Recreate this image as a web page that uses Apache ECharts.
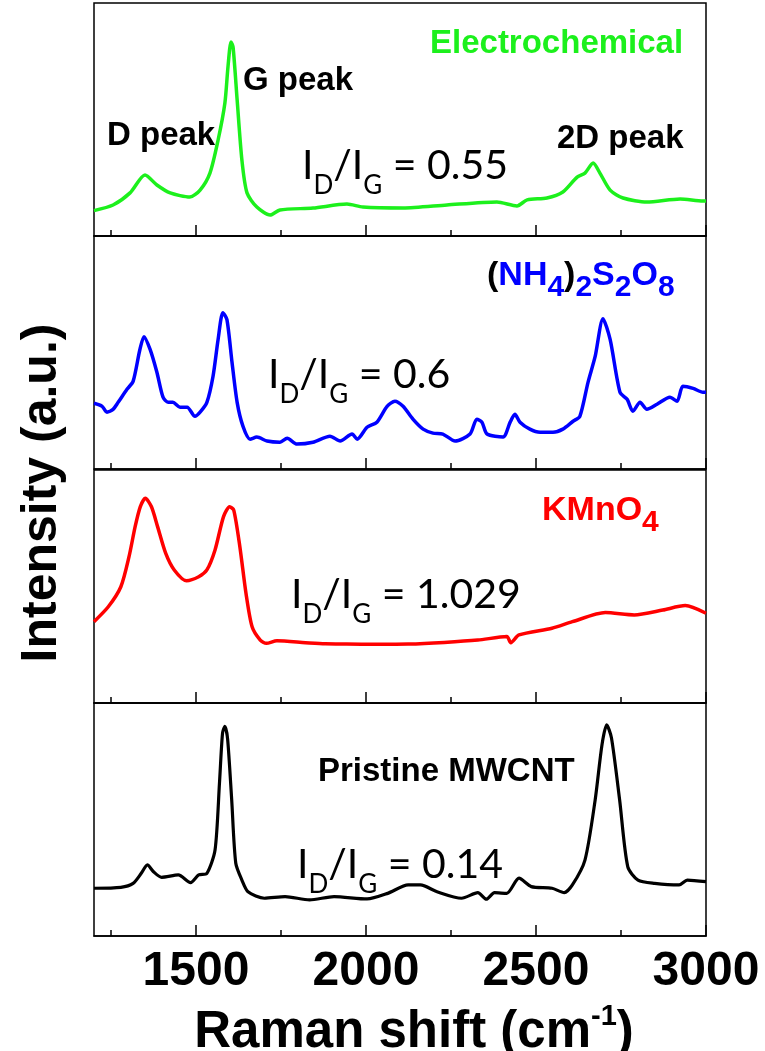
<!DOCTYPE html>
<html>
<head>
<meta charset="utf-8">
<script src="https://cdn.jsdelivr.net/npm/echarts@6/dist/echarts.min.js"></script>
<style>
  html, body { margin: 0; background: #fff; }
  #chart { width: 765px; height: 1051px; }
</style>
</head>
<body>
<div id="chart"></div>
<script>
// Raman shift range and tick marks (cm-1)
const xMin = 1200
const xMax = 3000
const majorTicks = [1500, 2000, 2500, 3000]
const minorTicks = [1250, 1750, 2250, 2750]

// spectra, [raman shift, intensity in a.u. (0-100 per panel)]
const electrochemical = [
  [1200, 10.9], [1256, 13.3], [1306, 18.5], [1350, 26.2], [1385, 21.9], [1424, 18.5],
  [1482, 16.7], [1512, 19.7], [1541, 27.0], [1565, 41.2], [1585, 57.1], [1594, 72.5],
  [1603, 83.3], [1609, 81.1], [1621, 58.4], [1635, 32.6], [1650, 18.5], [1679, 12.4],
  [1718, 9.0], [1747, 11.2], [1844, 12.0], [1944, 13.7], [1991, 12.4], [2109, 12.0],
  [2238, 13.3], [2385, 14.6], [2444, 12.9], [2474, 15.5], [2532, 16.3], [2579, 18.9],
  [2621, 25.3], [2644, 27.0], [2668, 31.3], [2688, 27.0], [2718, 19.7], [2756, 16.3],
  [2826, 14.6], [2924, 15.9], [2991, 15.0], [3000, 15.0]
]
const persulfate = [
  [1200, 28.2], [1224, 26.9], [1238, 24.4], [1256, 25.6], [1271, 28.6], [1297, 34.2],
  [1315, 37.6], [1335, 51.3], [1347, 56.8], [1365, 51.3], [1385, 41.5], [1403, 30.8],
  [1418, 28.6], [1432, 28.6], [1453, 26.5], [1474, 26.5], [1497, 22.6], [1512, 24.4],
  [1532, 28.6], [1550, 39.7], [1565, 55.6], [1579, 67.1], [1591, 64.1], [1606, 45.7],
  [1621, 28.6], [1638, 18.4], [1659, 12.8], [1679, 13.7], [1709, 12.0], [1747, 11.5],
  [1768, 13.2], [1797, 10.7], [1844, 11.5], [1894, 14.1], [1924, 12.0], [1959, 15.0],
  [1974, 12.8], [2003, 17.9], [2032, 20.1], [2062, 26.9], [2085, 29.1], [2109, 26.9],
  [2138, 21.4], [2168, 17.1], [2197, 15.4], [2226, 15.0], [2262, 12.0], [2306, 15.0],
  [2326, 21.4], [2341, 20.1], [2356, 15.0], [2403, 13.7], [2424, 20.1], [2438, 23.5],
  [2453, 20.1], [2482, 17.1], [2512, 15.8], [2550, 15.8], [2579, 17.1], [2609, 20.5],
  [2629, 22.6], [2653, 37.2], [2674, 48.3], [2697, 64.5], [2718, 55.6], [2747, 32.9],
  [2768, 29.9], [2785, 24.8], [2806, 28.6], [2826, 25.6], [2856, 27.8], [2894, 30.8],
  [2915, 29.1], [2932, 35.5], [2962, 34.6], [2991, 32.9], [3000, 32.9]
]
const permanganate = [
  [1200, 34.9], [1242, 41.3], [1279, 49.9], [1303, 62.8], [1321, 75.7], [1336, 84.2],
  [1351, 87.9], [1369, 84.2], [1387, 75.7], [1411, 64.2], [1436, 57.1], [1472, 52.5],
  [1508, 54.2], [1532, 57.1], [1556, 65.7], [1581, 80.0], [1599, 84.2], [1611, 82.8],
  [1629, 67.1], [1647, 47.1], [1665, 32.7], [1689, 27.0], [1707, 25.6], [1738, 26.7],
  [1822, 25.9], [1880, 25.4], [1943, 25.3], [2030, 25.2], [2124, 25.3], [2230, 26.0],
  [2329, 27.0], [2414, 28.5], [2426, 25.9], [2450, 29.2], [2547, 32.1], [2607, 34.9],
  [2704, 38.8], [2789, 37.8], [2873, 39.9], [2939, 41.8], [3000, 38.5]
]
const pristine = [
  [1200, 20.5], [1279, 20.9], [1315, 22.6], [1339, 26.9], [1357, 30.5], [1375, 27.6],
  [1399, 25.2], [1448, 26.2], [1484, 22.9], [1508, 26.2], [1532, 26.9], [1556, 36.9],
  [1569, 65.5], [1578, 87.0], [1585, 90.0], [1593, 84.5], [1605, 58.4], [1617, 31.2],
  [1635, 24.0], [1653, 19.0], [1701, 16.2], [1762, 16.9], [1834, 15.5], [1906, 16.9],
  [2003, 15.9], [2064, 18.3], [2124, 21.9], [2160, 21.9], [2209, 19.0], [2281, 16.2],
  [2329, 18.6], [2354, 15.8], [2378, 18.6], [2414, 18.3], [2450, 24.8], [2486, 21.2],
  [2547, 20.5], [2583, 18.6], [2607, 21.9], [2644, 32.6], [2674, 58.4], [2694, 82.0],
  [2708, 90.6], [2722, 85.0], [2746, 58.4], [2770, 29.7], [2800, 24.0], [2849, 22.6],
  [2921, 21.9], [2945, 24.0], [3000, 23.3]
]

const spectra = [electrochemical, persulfate, permanganate, pristine]
const colors = ['#1cf01c', '#0000ff', '#ff0000', '#000000']
const ratios = ['0.55', '0.6', '1.029', '0.14']

const panelTops = [3, 236, 470, 703]
const panelHeight = 233
const boldFont = '"Liberation Sans", Arial, sans-serif'

const chart = echarts.init(document.getElementById('chart'))

const grids = []
const xAxes = []
const yAxes = []
const series = []

spectra.forEach((data, i) => {
  grids.push({
    left: 94, right: 59, top: panelTops[i], height: panelHeight,
    show: true, borderColor: '#000', borderWidth: 1.5
  })
  const isLast = i === spectra.length - 1
  // major ticks (+ labels on the bottom panel)
  xAxes.push({
    type: 'value', gridIndex: i, min: xMin, max: xMax, position: 'bottom',
    axisLine: { show: true, lineStyle: { color: '#000', width: 1.5 } },
    axisTick: { show: true, inside: true, length: 11, customValues: majorTicks,
      lineStyle: { color: '#000', width: 1.5 } },
    axisLabel: { show: isLast, customValues: majorTicks, formatter: (v) => String(v),
      fontSize: 48, fontWeight: 'bold', fontFamily: boldFont, color: '#000', margin: 12 },
    splitLine: { show: false }
  })
  // minor ticks
  xAxes.push({
    type: 'value', gridIndex: i, min: xMin, max: xMax, position: 'bottom',
    axisLine: { show: false },
    axisTick: { show: true, inside: true, length: 6, customValues: minorTicks,
      lineStyle: { color: '#000', width: 1.5 } },
    axisLabel: { show: false },
    splitLine: { show: false }
  })
  yAxes.push({ type: 'value', gridIndex: i, min: 0, max: 100, show: false })
  series.push({
    type: 'line', xAxisIndex: 2 * i, yAxisIndex: i, data: data,
    showSymbol: false, smooth: 0.25,
    lineStyle: { color: colors[i], width: i === 3 ? 3.2 : 3.5 }
  })
})

// I_D/I_G annotations
const ratioRich = {
  n: { fontFamily: 'Lato', fontSize: 41, lineHeight: 45, verticalAlign: 'top', fill: '#000' },
  s: { fontFamily: 'Lato', fontSize: 26, lineHeight: 81, verticalAlign: 'middle', fill: '#000' }
}
const ratioPos = [[302, 145], [268, 354], [291, 574], [297, 844]]

const formulaRich = (c) => ({
  b: { fontFamily: boldFont, fontWeight: 'bold', fontSize: 34, lineHeight: 38, verticalAlign: 'top', fill: c },
  p: { fontFamily: boldFont, fontWeight: 'bold', fontSize: 34, lineHeight: 38, verticalAlign: 'top', fill: '#000' },
  s: { fontFamily: boldFont, fontWeight: 'bold', fontSize: 30, lineHeight: 58, verticalAlign: 'middle', fill: c }
})

const boldText = (text, x, baseline, size, color) => ({
  type: 'text', x: x, y: baseline - 0.35 * size,
  style: { text: text, fontFamily: boldFont, fontWeight: 'bold', fontSize: size,
    fill: color, align: 'left', verticalAlign: 'middle' }
})

const graphics = [
  boldText('D peak', 107, 147, 33, '#000'),
  boldText('G peak', 243, 92, 33, '#000'),
  boldText('2D peak', 557, 150, 33, '#000'),
  boldText('Electrochemical', 430, 55, 33, colors[0]),
  boldText('Pristine MWCNT', 318, 783, 33, '#000'),
  {
    type: 'text', x: 487, y: 259,
    style: { text: '{p|(}{b|NH}{s|4}{p|)}{s|2}{b|S}{s|2}{b|O}{s|8}', rich: formulaRich(colors[1]),
      align: 'left', verticalAlign: 'top' }
  },
  {
    type: 'text', x: 542, y: 494,
    style: { text: '{b|KMnO}{s|4}', rich: formulaRich(colors[2]), align: 'left', verticalAlign: 'top' }
  },
  {
    type: 'text', x: 42, y: 493, rotation: Math.PI / 2,
    style: { text: 'Intensity (a.u.)', fontFamily: boldFont, fontWeight: 'bold', fontSize: 50,
      fill: '#000', align: 'center', verticalAlign: 'middle' }
  },
  {
    type: 'text', x: 414, y: 1002,
    style: {
      text: '{m|Raman shift (cm}{u|-1}{m|)}',
      rich: {
        m: { fontFamily: boldFont, fontWeight: 'bold', fontSize: 51, lineHeight: 56, verticalAlign: 'bottom', fill: '#000' },
        u: { fontFamily: boldFont, fontWeight: 'bold', fontSize: 29, lineHeight: 30, verticalAlign: 'top', fill: '#000' }
      },
      align: 'center', verticalAlign: 'top'
    }
  }
]
ratios.forEach((r, i) => {
  graphics.push({
    type: 'text', x: ratioPos[i][0], y: ratioPos[i][1],
    style: { text: '{n|I}{s|D}{n|/I}{s|G}{n| = ' + r + '}', rich: ratioRich,
      align: 'left', verticalAlign: 'top' }
  })
})

chart.setOption({
  animation: false,
  backgroundColor: '#fff',
  grid: grids,
  xAxis: xAxes,
  yAxis: yAxes,
  series: series,
  graphic: graphics
})
</script>
</body>
</html>
